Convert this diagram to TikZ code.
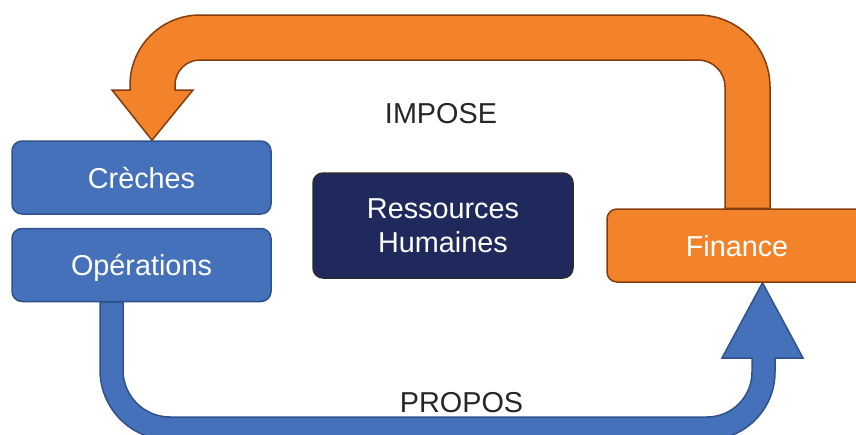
\documentclass[tikz,border=0pt]{standalone}
\usepackage{fontspec}
\setmainfont{Liberation Sans}
\definecolor{boxblue}{HTML}{4471B9}
\definecolor{blueline}{HTML}{2F528F}
\definecolor{boxorange}{HTML}{F2832A}
\definecolor{orangeline}{HTML}{843C0C}
\definecolor{boxnavy}{HTML}{1F295C}
\definecolor{navyline}{HTML}{2B2B30}
\definecolor{labeltext}{HTML}{262626}
\tikzset{
  dept/.style={rounded corners=10pt, line width=1.5pt, inner sep=0pt,
    text=white, font=\fontsize{28.8}{34.5}\selectfont},
  flat/.style={dept, minimum width=259pt, minimum height=73pt,
    text height=21pt, text depth=0pt},
  flowlabel/.style={anchor=base, text=labeltext, font=\fontsize{28.8}{34.5}\selectfont},
  imposearrow/.style={fill=boxorange, draw=orangeline, line width=1.5pt, line join=miter},
  proposarrow/.style={fill=boxblue, draw=blueline, line width=1.5pt, line join=miter}
}
\begin{document}
\begin{tikzpicture}[x=1pt, y=-1pt]
\useasboundingbox (0,0) rectangle (856,434);
\clip (0,0) rectangle (856,434);

\path
(141.5, 177.5) coordinate (crepos)
(141.5, 265) coordinate (opspos)
(443, 225.5) coordinate (rhpos)
(737, 245.5) coordinate (finpos);

\path
(crepos) node[flat](cre){}
(opspos) node[flat](ops){}
(finpos) node[flat, minimum width=260pt](fin){};

\draw[imposearrow] ([xshift=33]fin.north) -- (770,87)
  arc[start angle=0, end angle=90, radius=72pt] -- (200,15)
  arc[start angle=90, end angle=180, radius=70pt] -- (130,90)
  -- (112,90) -- ([xshift=10.5]cre.north) -- (193,90) -- (175,90) -- (175,85)
  arc[start angle=180, end angle=90, radius=25pt] -- (698,60)
  arc[start angle=90, end angle=0, radius=27pt] -- ([xshift=-12]fin.north) -- cycle;

\draw[proposarrow] ([xshift=-41.5]ops.south) -- (100,370)
  arc[start angle=180, end angle=270, radius=70pt] -- (707,440)
  arc[start angle=270, end angle=360, radius=68pt] -- (775,358)
  -- (803,358) -- ([xshift=25.5]fin.south) -- (722,358) -- (752,358) -- (752,372)
  arc[start angle=0, end angle=-90, radius=45pt] -- (170,417)
  arc[start angle=270, end angle=180, radius=47pt] -- ([xshift=-18.5]ops.south) -- cycle;

\draw
(crepos) node[flat, fill=boxblue, draw=blueline]{Crèches}
(opspos) node[flat, fill=boxblue, draw=blueline]{Opérations}
(rhpos) node[dept, fill=boxnavy, draw=navyline, minimum width=260pt, minimum height=105pt, align=center](rh){Ressources\\Humaines}
(finpos) node[flat, minimum width=260pt, fill=boxorange, draw=orangeline]{Finance};

\path
(441, 123) node[flowlabel](impose){IMPOSE}
(461.5, 412) node[flowlabel](propos){PROPOS};

\end{tikzpicture}
\end{document}
